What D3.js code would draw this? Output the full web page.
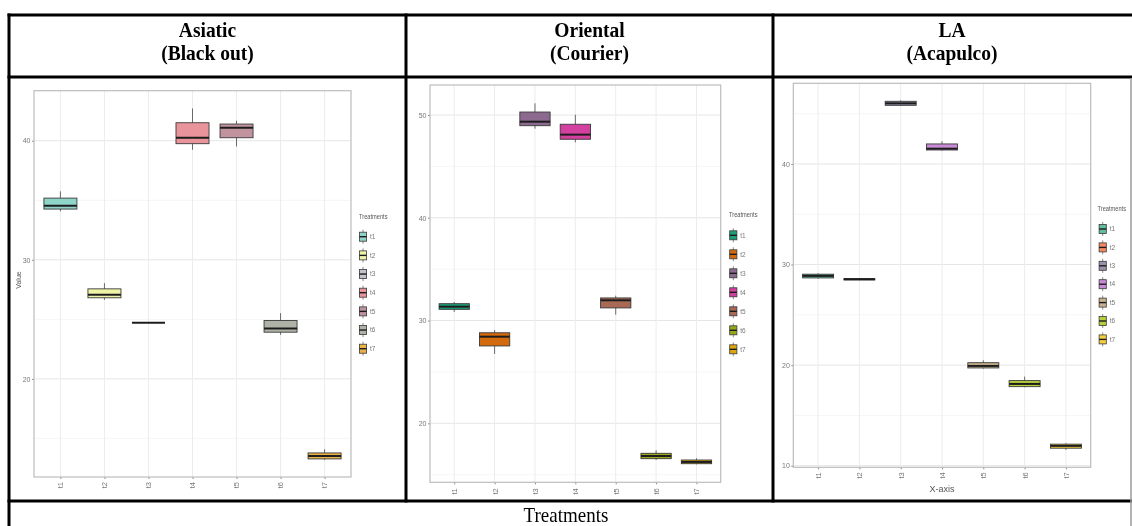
<!DOCTYPE html>
<html>
<head>
<meta charset="utf-8">
<script src="https://cdn.jsdelivr.net/npm/d3@7"></script>
<style>
  html, body { margin: 0; padding: 0; background: #fff; }
  svg { display: block; }
</style>
</head>
<body>
<svg id="fig" width="1132" height="526"></svg>
<script>
// ---- data -------------------------------------------------------------
const treatments = ["t1", "t2", "t3", "t4", "t5", "t6", "t7"];

// Asiatic (Black out): whisker low, Q1, median, Q3, whisker high
const asiaticLow  = [34.07, 26.64, 24.71, 39.24, 39.52, 23.70, 13.19];
const asiaticQ1   = [34.26, 26.81, 24.71, 39.75, 40.25, 23.92, 13.28];
const asiaticMed  = [34.54, 27.06, 24.71, 40.25, 41.09, 24.23, 13.53];
const asiaticQ3   = [35.18, 27.56, 24.71, 41.51, 41.40, 24.90, 13.78];
const asiaticHigh = [35.75, 28.04, 24.71, 42.71, 41.68, 25.52, 14.09];
const asiaticTicks = [20, 30, 40];
const asiaticColors = ["#8fd4c8", "#eef3a6", "#c4c2cc", "#e8949a", "#c0939f", "#aeb2a7", "#e9b34a"];

// Oriental (Courier)
const orientalLow  = [30.84, 26.75, 48.67, 47.34, 30.57, 16.43, 16.01];
const orientalQ1   = [31.09, 27.53, 48.96, 47.64, 31.23, 16.56, 16.07];
const orientalMed  = [31.35, 28.43, 49.35, 48.09, 31.97, 16.82, 16.24];
const orientalQ3   = [31.64, 28.81, 50.29, 49.10, 32.20, 17.08, 16.43];
const orientalHigh = [31.81, 29.08, 51.14, 50.03, 32.42, 17.37, 16.60];
const orientalTicks = [20, 30, 40, 50];
const orientalColors = ["#1b9e77", "#d36a0c", "#8c6a8f", "#d33f9f", "#a86a55", "#97a81c", "#e0a70a"];

// LA (Acapulco)
const laLow  = [28.60, 28.47, 45.77, 41.32, 19.65, 17.80, 11.57];
const laQ1   = [28.67, 28.47, 45.83, 41.39, 19.72, 17.86, 11.74];
const laMed  = [28.87, 28.54, 46.03, 41.52, 19.92, 18.13, 11.97];
const laQ3   = [29.04, 28.60, 46.23, 41.99, 20.24, 18.46, 12.14];
const laHigh = [29.13, 28.60, 46.33, 42.26, 20.48, 18.86, 12.24];
const laTicks = [10, 20, 30, 40];
const laColors = ["#5fbf9f", "#f58a5f", "#9b91ae", "#c98bd6", "#c8b18d", "#b5d03a", "#f5cf3d"];

// ---- drawing ----------------------------------------------------------
const svg = d3.select("#fig");
svg.append("rect").attr("width", 1132).attr("height", 526).attr("fill", "#fff");

const defs = svg.append("defs");
defs.append("filter").attr("id", "soft")
  .attr("x", "-5%").attr("y", "-5%").attr("width", "110%").attr("height", "110%")
  .append("feGaussianBlur").attr("stdDeviation", 0.45);

const SANS = "'Liberation Sans Narrow', 'Liberation Sans', Arial, sans-serif";
const SERIF = "'Liberation Serif', 'Times New Roman', serif";

function rows(low, q1, med, q3, high, colors) {
  return treatments.map((t, i) => ({
    t, low: low[i], q1: q1[i], med: med[i], q3: q3[i], high: high[i], color: colors[i]
  }));
}

function drawPanel(opt) {
  const g = svg.append("g").attr("filter", "url(#soft)");
  const { left, right, top, bottom } = opt.box;

  const x = d3.scalePoint().domain(treatments).range([left, right]).padding(0.6);
  const y = d3.scaleLinear().domain(opt.domain).range([bottom, top]);
  const bw = x.step() * 0.75;

  g.append("rect").attr("x", left).attr("y", top)
    .attr("width", right - left).attr("height", bottom - top).attr("fill", "#fff");

  // minor grid (half-way between major ticks)
  const minor = [];
  const tk = opt.ticks;
  const stepT = tk[1] - tk[0];
  for (let v = tk[0] - stepT / 2; v <= opt.domain[1]; v += stepT) {
    if (v >= opt.domain[0]) minor.push(v);
  }
  g.selectAll(null).data(minor).join("line")
    .attr("x1", left).attr("x2", right)
    .attr("y1", d => y(d)).attr("y2", d => y(d))
    .attr("stroke", "#f2f2f2").attr("stroke-width", 0.8);
  g.selectAll(null).data(tk).join("line")
    .attr("x1", left).attr("x2", right)
    .attr("y1", d => y(d)).attr("y2", d => y(d))
    .attr("stroke", "#e6e6e6").attr("stroke-width", 1);
  g.selectAll(null).data(treatments).join("line")
    .attr("x1", d => x(d)).attr("x2", d => x(d))
    .attr("y1", top).attr("y2", bottom)
    .attr("stroke", "#ececec").attr("stroke-width", 1);

  // axes
  const yAxis = d3.axisLeft(y).tickValues(tk).tickSize(2).tickPadding(1.5);
  const ya = g.append("g").attr("transform", `translate(${left},0)`).call(yAxis);
  ya.select(".domain").remove();
  ya.selectAll("line").attr("stroke", "#8a8a8a");
  ya.selectAll("text").attr("font-family", SANS).attr("font-size", 7).attr("fill", "#777");

  const xAxis = d3.axisBottom(x).tickSize(2).tickPadding(3);
  const xa = g.append("g").attr("transform", `translate(0,${bottom})`).call(xAxis);
  xa.select(".domain").remove();
  xa.selectAll("line").attr("stroke", "#8a8a8a");
  xa.selectAll("text")
    .attr("font-family", SANS).attr("font-size", 7.5).attr("fill", "#777")
    .attr("transform", "rotate(-90)")
    .attr("text-anchor", "end").attr("dy", "0.32em")
    .attr("x", -opt.xLabelGap).attr("y", 0);

  // boxes
  const data = opt.data;
  const b = g.append("g");
  b.selectAll(null).data(data).join("line")
    .attr("x1", d => x(d.t)).attr("x2", d => x(d.t))
    .attr("y1", d => y(d.high)).attr("y2", d => y(d.low))
    .attr("stroke", "#5a5a5a").attr("stroke-width", 0.9);
  b.selectAll(null).data(data).join("rect")
    .attr("x", d => x(d.t) - bw / 2).attr("width", bw)
    .attr("y", d => y(d.q3)).attr("height", d => Math.max(0, y(d.q1) - y(d.q3)))
    .attr("fill", d => d.color)
    .attr("stroke", "#3a3a3a").attr("stroke-width", 0.9);
  b.selectAll(null).data(data).join("line")
    .attr("x1", d => x(d.t) - bw / 2).attr("x2", d => x(d.t) + bw / 2)
    .attr("y1", d => y(d.med)).attr("y2", d => y(d.med))
    .attr("stroke", "#1e1e1e").attr("stroke-width", 2);

  // panel border
  g.append("rect").attr("x", left).attr("y", top)
    .attr("width", right - left).attr("height", bottom - top)
    .attr("fill", "none").attr("stroke", "#bdbdbd").attr("stroke-width", 1.2);

  // axis titles
  if (opt.yTitle) {
    g.append("text")
      .attr("transform", `translate(${opt.yTitle.x},${opt.yTitle.y}) rotate(-90)`)
      .attr("text-anchor", "middle")
      .attr("font-family", SANS).attr("font-size", 7).attr("fill", "#555")
      .text(opt.yTitle.text);
  }
  if (opt.xTitle) {
    g.append("text")
      .attr("x", opt.xTitle.x).attr("y", opt.xTitle.y)
      .attr("text-anchor", "middle")
      .attr("font-family", SANS).attr("font-size", 9).attr("fill", "#555")
      .text(opt.xTitle.text);
  }

  // legend
  const L = opt.legend;
  g.append("text").attr("x", L.x).attr("y", L.y)
    .attr("font-family", SANS).attr("font-size", 6.5).attr("fill", "#555")
    .attr("textLength", 28.5).attr("lengthAdjust", "spacingAndGlyphs")
    .text("Treatments");
  const keys = g.selectAll(null).data(data).join("g")
    .attr("transform", (d, i) => `translate(${L.kx},${L.ky + i * L.step})`);
  keys.append("line").attr("y1", -7).attr("y2", 7)
    .attr("stroke", "#6a6a6a").attr("stroke-width", 0.8);
  keys.append("rect").attr("x", -3.6).attr("y", -4.5).attr("width", 7.2).attr("height", 9)
    .attr("fill", d => d.color).attr("stroke", "#3a3a3a").attr("stroke-width", 0.8);
  keys.append("line").attr("x1", -3.6).attr("x2", 3.6)
    .attr("stroke", "#1e1e1e").attr("stroke-width", 1.4);
  keys.append("text").attr("x", 7).attr("dy", "0.35em")
    .attr("font-family", SANS).attr("font-size", 6.5).attr("fill", "#777")
    .text(d => d.t);
}

drawPanel({
  box: { left: 34, right: 351, top: 90.7, bottom: 477 },
  domain: [11.76, 44.2],
  ticks: asiaticTicks,
  data: rows(asiaticLow, asiaticQ1, asiaticMed, asiaticQ3, asiaticHigh, asiaticColors),
  xLabelGap: 5,
  yTitle: { x: 21, y: 280, text: "Value" },
  legend: { x: 359, y: 219, kx: 363, ky: 236.7, step: 18.67 }
});

drawPanel({
  box: { left: 430, right: 720.7, top: 85, bottom: 482.3 },
  domain: [14.26, 52.92],
  ticks: orientalTicks,
  data: rows(orientalLow, orientalQ1, orientalMed, orientalQ3, orientalHigh, orientalColors),
  xLabelGap: 6,
  legend: { x: 729, y: 217, kx: 733.3, ky: 235.3, step: 19 }
});

drawPanel({
  box: { left: 793.3, right: 1090.7, top: 83.3, bottom: 467.3 },
  domain: [9.84, 48.02],
  ticks: laTicks,
  data: rows(laLow, laQ1, laMed, laQ3, laHigh, laColors),
  xLabelGap: 5,
  xTitle: { x: 942, y: 492, text: "X-axis" },
  legend: { x: 1097.5, y: 210.5, kx: 1102.7, ky: 229, step: 18.4 }
});

// ---- table frame ------------------------------------------------------
const frame = svg.append("g").attr("stroke", "#000").attr("stroke-width", 3);
frame.append("line").attr("x1", 7.5).attr("x2", 1132).attr("y1", 15).attr("y2", 15);
frame.append("line").attr("x1", 7.5).attr("x2", 1132).attr("y1", 77).attr("y2", 77);
frame.append("line").attr("x1", 7.5).attr("x2", 1132).attr("y1", 501).attr("y2", 501);
frame.append("line").attr("x1", 9).attr("x2", 9).attr("y1", 13.5).attr("y2", 526);
frame.append("line").attr("x1", 406).attr("x2", 406).attr("y1", 13.5).attr("y2", 502.5);
frame.append("line").attr("x1", 773).attr("x2", 773).attr("y1", 13.5).attr("y2", 502.5);
svg.append("line").attr("x1", 1131).attr("x2", 1131).attr("y1", 78).attr("y2", 526)
  .attr("stroke", "#9a9a9a").attr("stroke-width", 1.5);

// ---- header and footer text -------------------------------------------
// header glyphs are set slightly taller than wide, as in the table's typeface
const headers = [
  { x: 207.5, lines: ["Asiatic", "(Black out)"] },
  { x: 589.5, lines: ["Oriental", "(Courier)"] },
  { x: 952,   lines: ["LA", "(Acapulco)"] }
];
headers.forEach(h => {
  h.lines.forEach((s, i) => {
    const baseY = 36.5 + i * 23.5;
    svg.append("text")
      .attr("transform", `translate(${h.x},${baseY}) scale(1,1.08)`)
      .attr("text-anchor", "middle")
      .attr("font-family", SERIF).attr("font-weight", "bold").attr("font-size", 19.5)
      .attr("fill", "#000").text(s);
  });
});
svg.append("text")
  .attr("transform", "translate(566,522) scale(1,1.1)")
  .attr("text-anchor", "middle")
  .attr("font-family", SERIF).attr("font-size", 19).attr("fill", "#000")
  .text("Treatments");
</script>
</body>
</html>
